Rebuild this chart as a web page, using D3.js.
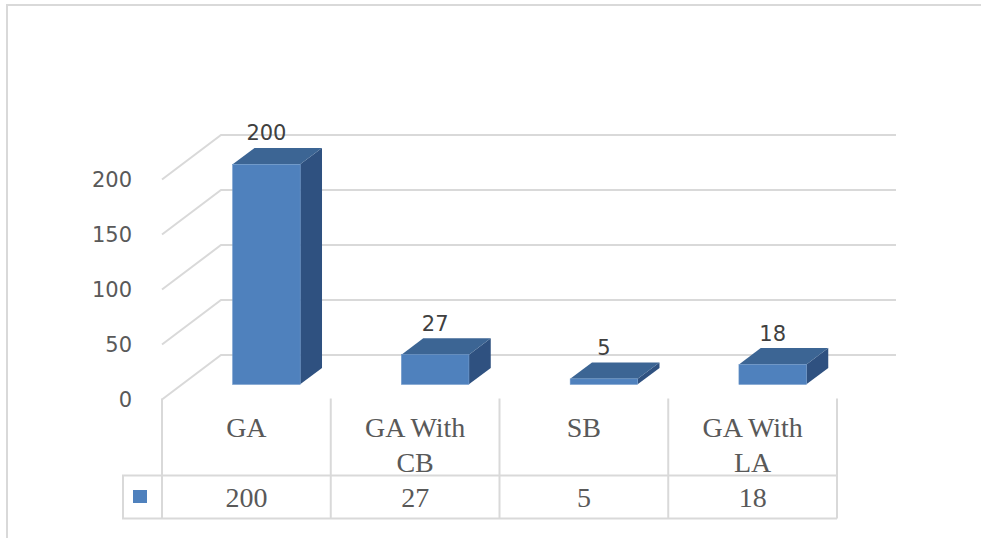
<!DOCTYPE html>
<html>
<head>
<meta charset="utf-8">
<script src="https://cdn.jsdelivr.net/npm/d3@7"></script>
<style>
  html, body { margin: 0; padding: 0; background: #fff; }
  svg { display: block; }
</style>
</head>
<body>
<div id="chart"></div>
<script>
const categories = [['GA'], ['GA With', 'CB'], ['SB'], ['GA With', 'LA']]
const values = [200, 27, 5, 18]
const yTicks = [0, 50, 100, 150, 200]

const W = 981, H = 538
const floor = { left: 162, right: 837, front: 399.5 }
const depth = { dx: 59, dy: -44.5 }
const barFront = 0.34, barBack = 0.71

const svg = d3.select('#chart').append('svg')
  .attr('width', W)
  .attr('height', H)

// chart frame
svg.append('path')
  .attr('d', 'M7,' + H + 'V5H' + W)
  .attr('fill', 'none')
  .attr('stroke', '#d9d9d9')
  .attr('stroke-width', 2)

let x = d3.scaleBand()
  .domain(d3.range(categories.length))
  .range([floor.left, floor.right])

let y = d3.scaleLinear().domain([0, 200]).range([floor.front, 179.5])

// project a point at depth d (0 = front, 1 = back)
const px = (xx, d) => xx + depth.dx * d
const py = (yy, d) => yy + depth.dy * d

// gridlines: side wall diagonals + back wall
let grid = svg.append('g')
  .attr('stroke', '#d9d9d9')
  .attr('stroke-width', 2)
  .attr('fill', 'none')

grid.selectAll('path')
  .data(yTicks)
  .join('path')
  .attr('d', (t) => 'M' + floor.left + ',' + y(t) +
    'L' + px(floor.left, 1) + ',' + py(y(t), 1) +
    'H' + px(floor.right, 1))

// tick labels
svg.append('g')
  .selectAll('text')
  .data(yTicks)
  .join('text')
  .attr('x', 132)
  .attr('y', (t) => y(t))
  .attr('dy', '0.36em')
  .attr('text-anchor', 'end')
  .attr('font-family', 'DejaVu Sans, sans-serif')
  .attr('font-size', 21)
  .attr('fill', '#595959')
  .text((t) => t)

// 3d columns
const bw = x.bandwidth() * 0.4
let bars = svg.append('g')
  .selectAll('g')
  .data(values)
  .join('g')

function barGeom(v, i) {
  const x0 = px(x(i) + (x.bandwidth() - bw) / 2, barFront)
  const x1 = x0 + bw
  const yb = py(y(0), barFront)
  const yt = py(y(v), barFront)
  const ox = depth.dx * (barBack - barFront)
  const oy = depth.dy * (barBack - barFront)
  return { x0, x1, yb, yt, ox, oy }
}

bars.append('path')
  .attr('fill', '#2f5180')
  .attr('d', (v, i) => {
    const g = barGeom(v, i)
    return 'M' + g.x1 + ',' + g.yb + 'L' + (g.x1 + g.ox) + ',' + (g.yb + g.oy) +
      'L' + (g.x1 + g.ox) + ',' + (g.yt + g.oy) + 'L' + g.x1 + ',' + g.yt + 'Z'
  })

bars.append('path')
  .attr('fill', '#3c6594')
  .attr('d', (v, i) => {
    const g = barGeom(v, i)
    return 'M' + g.x0 + ',' + g.yt + 'L' + (g.x0 + g.ox) + ',' + (g.yt + g.oy) +
      'L' + (g.x1 + g.ox) + ',' + (g.yt + g.oy) + 'L' + g.x1 + ',' + g.yt + 'Z'
  })

bars.append('rect')
  .attr('fill', '#4f81bd')
  .attr('stroke', '#6a95c9')
  .attr('stroke-width', 0.6)
  .attr('x', (v, i) => barGeom(v, i).x0)
  .attr('y', (v, i) => barGeom(v, i).yt)
  .attr('width', bw)
  .attr('height', (v, i) => barGeom(v, i).yb - barGeom(v, i).yt)

// data labels
bars.append('text')
  .attr('x', (v, i) => {
    const g = barGeom(v, i)
    return (g.x0 + g.x1) / 2
  })
  .attr('y', (v, i) => {
    const g = barGeom(v, i)
    return g.yt + g.oy - 15
  })
  .attr('dy', '0.36em')
  .attr('text-anchor', 'middle')
  .attr('font-family', 'DejaVu Sans, sans-serif')
  .attr('font-size', 21)
  .attr('fill', '#404040')
  .text((v) => v)

// data table
const tableTop = floor.front - 1, rowY = 475.5, tableBottom = 518.5, legendLeft = 123
let table = svg.append('g')
  .attr('stroke', '#d9d9d9')
  .attr('stroke-width', 2)
  .attr('fill', 'none')

table.selectAll('line.v')
  .data(d3.range(categories.length + 1))
  .join('line')
  .attr('class', 'v')
  .attr('x1', (i) => i < categories.length ? x(i) : floor.right)
  .attr('x2', (i) => i < categories.length ? x(i) : floor.right)
  .attr('y1', tableTop)
  .attr('y2', tableBottom)

table.append('path')
  .attr('d', 'M' + floor.right + ',' + rowY + 'H' + legendLeft + 'V' + tableBottom + 'H' + floor.right)

svg.append('rect')
  .attr('x', 133)
  .attr('y', 490)
  .attr('width', 14)
  .attr('height', 13)
  .attr('fill', '#4f81bd')

let catText = svg.append('g')
  .selectAll('text')
  .data(categories)
  .join('text')
  .attr('x', (c, i) => x(i) + x.bandwidth() / 2)
  .attr('y', 427)
  .attr('dy', '0.35em')
  .attr('text-anchor', 'middle')
  .attr('font-family', 'Liberation Serif, Times New Roman, serif')
  .attr('font-size', 28)
  .attr('fill', '#595959')

catText.selectAll('tspan')
  .data((c) => c)
  .join('tspan')
  .attr('x', function () { return this.parentNode.getAttribute('x') })
  .attr('dy', (l, j) => j === 0 ? '0.35em' : 35)
  .text((l) => l)

svg.append('g')
  .selectAll('text')
  .data(values)
  .join('text')
  .attr('x', (v, i) => x(i) + x.bandwidth() / 2)
  .attr('y', 497)
  .attr('dy', '0.35em')
  .attr('text-anchor', 'middle')
  .attr('font-family', 'Liberation Serif, Times New Roman, serif')
  .attr('font-size', 28)
  .attr('fill', '#595959')
  .text((v) => v)
</script>
</body>
</html>
